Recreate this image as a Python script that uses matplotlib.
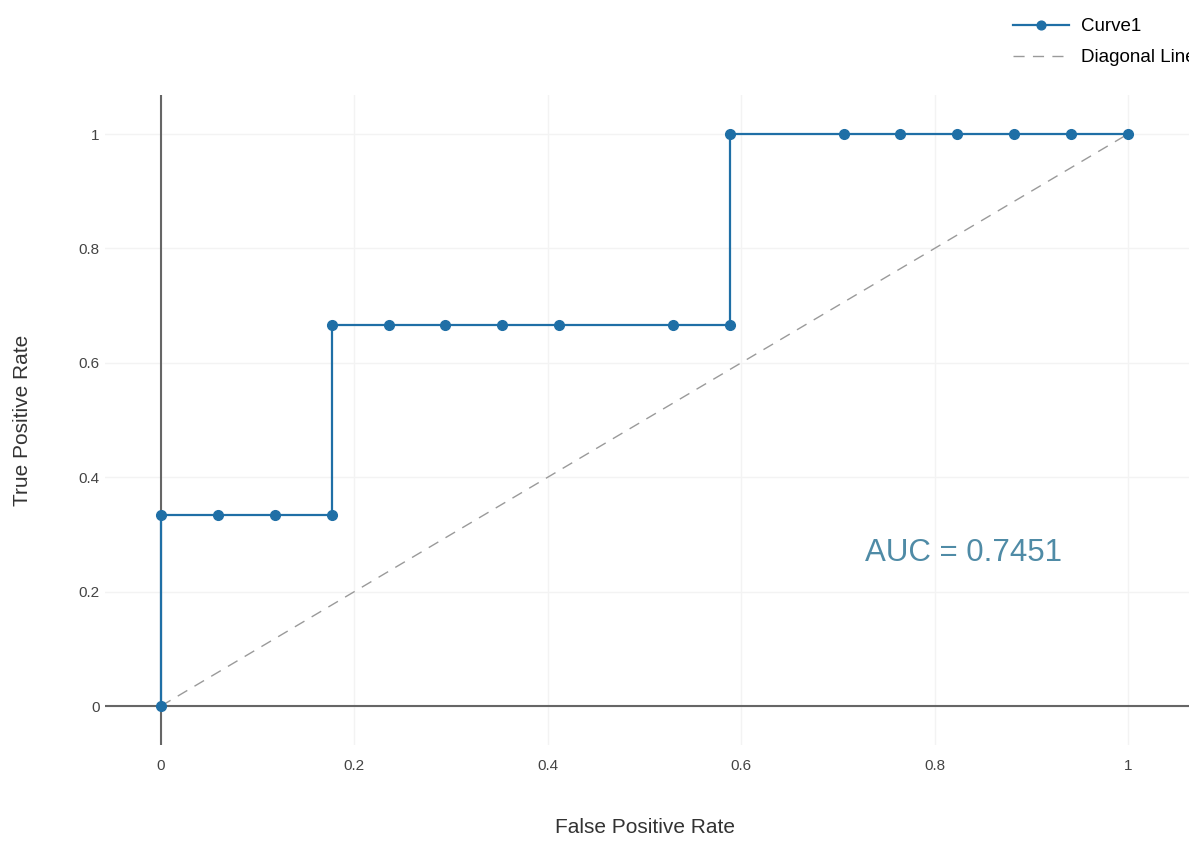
import matplotlib
matplotlib.use("Agg")
import matplotlib.pyplot as plt

fpr = [0, 0, 1/17, 2/17, 3/17, 3/17, 4/17, 5/17, 6/17, 7/17, 9/17, 10/17, 10/17,
       12/17, 13/17, 14/17, 15/17, 16/17, 1]
tpr = [0, 1/3, 1/3, 1/3, 1/3, 2/3, 2/3, 2/3, 2/3, 2/3, 2/3, 2/3, 1,
       1, 1, 1, 1, 1, 1]
diag_x = [0, 1]
diag_y = [0, 1]
xticks = [0, 0.2, 0.4, 0.6, 0.8, 1]
yticks = [0, 0.2, 0.4, 0.6, 0.8, 1]
xtick_labels = ["0", "0.2", "0.4", "0.6", "0.8", "1"]
ytick_labels = ["0", "0.2", "0.4", "0.6", "0.8", "1"]
auc_text = "AUC = 0.7451"

plt.rcParams['font.family'] = ['Liberation Sans', 'DejaVu Sans']

W, H = 1189, 843
fig = plt.figure(figsize=(W/100, H/100), dpi=100)
left, right, top, bottom = 105, 1189, 95, 745
ax = fig.add_axes([left/W, 1-bottom/H, (right-left)/W, (bottom-top)/H])

# data ranges from pixel mapping
x0p, x1p = 161, 1128
y0p, y1p = 706, 134
xs = 1/(x1p-x0p)
ys = 1/(y0p-y1p)
ax.set_xlim((left-x0p)*xs, (right-x0p)*xs)
ax.set_ylim((y0p-bottom)*ys, (y0p-top)*ys)

for s in ax.spines.values():
    s.set_visible(False)
ax.set_xticks(xticks, xtick_labels)
ax.set_yticks(yticks, ytick_labels)
ax.tick_params(length=0, labelsize=11, colors='#444444')
ax.tick_params(axis='x', pad=10)
ax.tick_params(axis='y', pad=4)
ax.grid(True, color='#f3f3f3', lw=1)
ax.set_axisbelow(True)

ax.axhline(0, color='#666666', lw=1.5, zorder=1)
ax.axvline(0, color='#666666', lw=1.5, zorder=1)

ax.plot(diag_x, diag_y, ls=(0, (8, 6)), color='#9a9a9a', lw=1, label='Diagonal Line', zorder=2)
ax.plot(fpr, tpr, color='#1f6fa6', lw=1.6, marker='o', ms=7, label='Curve1', zorder=3)

ax.text(0.728, 0.267, auc_text, fontsize=22.5, color='#4f8ba6', va='center', ha='left')

ax.set_xlabel('False Positive Rate', fontsize=15, color='#333333')
ax.set_ylabel('True Positive Rate', fontsize=15, color='#333333')
ax.xaxis.set_label_coords((645-left)/(right-left), -(818-bottom)/(bottom-top))
ax.yaxis.set_label_coords(-(left-32)/(right-left), (bottom-420)/(bottom-top))

h, l = ax.get_legend_handles_labels()
fig.legend([h[1], h[0]], [l[1], l[0]], loc='upper left',
           bbox_to_anchor=(1013/W, 1-18/H), frameon=False, fontsize=13.5,
           handlelength=3.0, handletextpad=0.65, labelspacing=0.75,
           borderpad=0, borderaxespad=0, markerscale=0.9)

fig.savefig('out.png', dpi=100)
